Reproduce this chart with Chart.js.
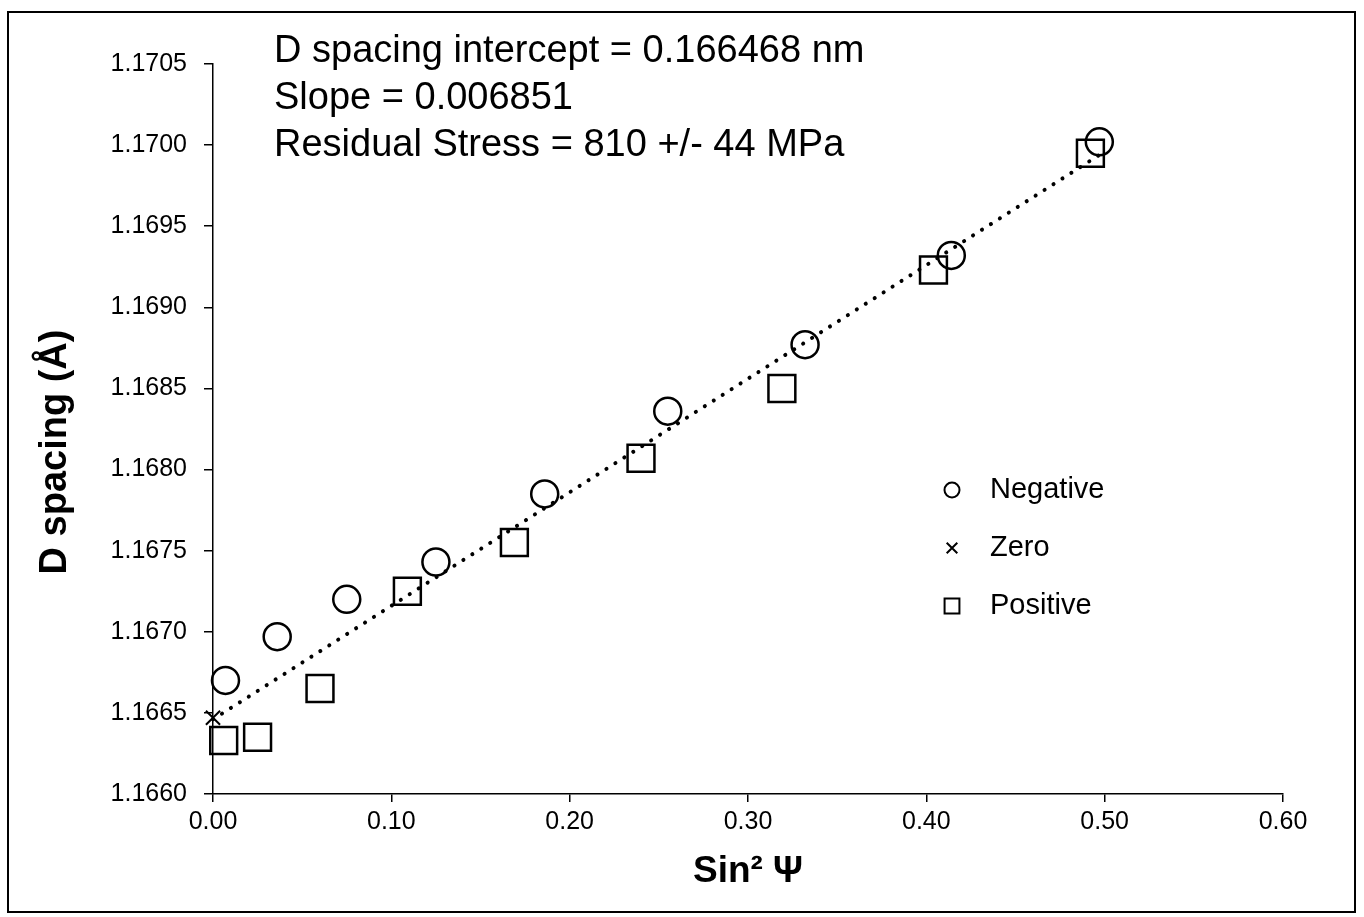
<!DOCTYPE html>
<html>
<head>
<meta charset="utf-8">
<script src="https://cdn.jsdelivr.net/npm/chart.js@4/dist/chart.umd.min.js"></script>
<style>
  html, body { margin: 0; padding: 0; background: #fff; }
  #wrap { width: 1364px; height: 917px; }
</style>
</head>
<body>
<div id="wrap"><canvas id="myChart" width="1364" height="917"></canvas></div>
<script>
// values (x = sin^2 psi, y = d spacing in angstrom)
const negX = [0.007, 0.036, 0.075, 0.125, 0.186, 0.255, 0.332, 0.414, 0.497];
const negY = [1.16670, 1.16697, 1.16720, 1.16743, 1.16785, 1.16836, 1.16877, 1.16932, 1.17002];

const zeroX = [0.0];
const zeroY = [1.16647];

const posX = [0.006, 0.025, 0.060, 0.109, 0.169, 0.240, 0.319, 0.404, 0.492];
const posY = [1.16633, 1.16635, 1.16665, 1.16725, 1.16755, 1.16807, 1.16850, 1.16923, 1.16995];

// least squares trend line end points
const fitX = [0.0, 0.5];
const fitY = [1.16646, 1.16996];

const xTicks = [0, 0.1, 0.2, 0.3, 0.4, 0.5, 0.6];
const xTickLabels = ['0.00', '0.10', '0.20', '0.30', '0.40', '0.50', '0.60'];
const yTicks = [1.1660, 1.1665, 1.1670, 1.1675, 1.1680, 1.1685, 1.1690, 1.1695, 1.1700, 1.1705];
const yTickLabels = ['1.1660', '1.1665', '1.1670', '1.1675', '1.1680', '1.1685', '1.1690', '1.1695', '1.1700', '1.1705'];

const seriesNames = ['Negative', 'Zero', 'Positive'];
const noteLines = [
  'D spacing intercept = 0.166468 nm',
  'Slope = 0.006851',
  'Residual Stress = 810 +/- 44 MPa'
];
const yTitle = 'D spacing (Å)';

const FONT = '"Liberation Sans", Arial, sans-serif';
const pts = (xs, ys) => xs.map((x, i) => ({ x: x, y: ys[i] }));

const ctx = document.getElementById('myChart');

// frame round the whole figure, y title, the text block and the legend
const extras = {
  id: 'extras',
  afterDraw(chart) {
    const c = chart.ctx;
    c.save();
    c.strokeStyle = '#000';
    c.lineWidth = 2;
    c.strokeRect(8, 12, 1347, 900);

    c.fillStyle = '#000';
    c.textBaseline = 'middle';

    c.save();
    c.translate(56, 452);
    c.rotate(-Math.PI / 2);
    c.textAlign = 'center';
    c.font = 'bold 38px ' + FONT;
    c.fillText(yTitle, 0, 0);
    c.restore();

    c.textAlign = 'left';
    c.font = '38px ' + FONT;
    noteLines.forEach((t, i) => c.fillText(t, 274, 52 + i * 47));

    c.font = '29px ' + FONT;
    const ds = chart.data.datasets;
    seriesNames.forEach((name, i) => {
      const y = 490 + i * 58;
      const d = ds[i];
      c.lineWidth = 2;
      c.strokeStyle = '#000';
      c.fillStyle = 'rgba(0,0,0,0)';
      Chart.helpers.drawPoint(c, {
        pointStyle: d.pointStyle,
        radius: d.pointStyle === 'rect' ? 10.5 : 7.5,
        borderWidth: 2
      }, 952, y);
      c.fillStyle = '#000';
      c.fillText(name, 990, y);
    });
    c.restore();
  }
};

new Chart(ctx, {
  type: 'scatter',
  data: {
    datasets: [
      {
        label: seriesNames[0],
        data: pts(negX, negY),
        pointStyle: 'circle',
        pointRadius: 13.5,
        pointHoverRadius: 13.5,
        borderColor: '#000',
        backgroundColor: 'rgba(0,0,0,0)',
        borderWidth: 2.5,
        clip: false,
        order: 2
      },
      {
        label: seriesNames[1],
        data: pts(zeroX, zeroY),
        pointStyle: 'crossRot',
        pointRadius: 10,
        borderColor: '#000',
        borderWidth: 2,
        clip: false,
        order: 2
      },
      {
        label: seriesNames[2],
        data: pts(posX, posY),
        pointStyle: 'rect',
        pointRadius: 19,
        pointHoverRadius: 19,
        borderColor: '#000',
        backgroundColor: 'rgba(0,0,0,0)',
        borderWidth: 2.5,
        clip: false,
        order: 2
      },
      {
        label: 'fit',
        type: 'line',
        data: pts(fitX, fitY),
        borderColor: '#000',
        borderWidth: 4,
        borderDash: [0.1, 10.5],
        borderCapStyle: 'round',
        pointRadius: 0,
        fill: false,
        clip: false,
        order: 1
      }
    ]
  },
  options: {
    responsive: false,
    animation: false,
    events: [],
    layout: { padding: { left: 10, top: 64, right: 81, bottom: 20 } },
    scales: {
      x: {
        type: 'linear',
        min: 0,
        max: 0.6,
        afterBuildTicks: s => { s.ticks = xTicks.map(v => ({ value: v })); },
        afterFit: s => { s.height = 917 - 794 - 20; },
        ticks: {
          color: '#000',
          font: { family: FONT, size: 25 },
          padding: 5,
          maxRotation: 0,
          callback: (v, i) => xTickLabels[i]
        },
        grid: { display: true, drawOnChartArea: false, drawTicks: true, tickLength: 8, color: '#000', lineWidth: 1.5 },
        border: { display: true, color: '#000', width: 1.5 },
        title: {
          display: true,
          text: 'Sin² Ψ',
          color: '#000',
          font: { family: FONT, size: 37, weight: 'bold' },
          padding: { top: 0, bottom: 3 }
        }
      },
      y: {
        type: 'linear',
        min: 1.1660,
        max: 1.1705,
        afterBuildTicks: s => { s.ticks = yTicks.map(v => ({ value: v })); },
        afterFit: s => { s.width = 213 - 10; },
        ticks: {
          color: '#000',
          font: { family: FONT, size: 25 },
          padding: 17,
          callback: (v, i) => yTickLabels[i]
        },
        grid: { display: true, drawOnChartArea: false, drawTicks: true, tickLength: 9, color: '#000', lineWidth: 1.5 },
        border: { display: true, color: '#000', width: 1.5 },
        title: { display: false }
      }
    },
    plugins: {
      legend: { display: false },
      title: { display: false },
      tooltip: { enabled: false }
    }
  },
  plugins: [extras]
});
</script>
</body>
</html>
